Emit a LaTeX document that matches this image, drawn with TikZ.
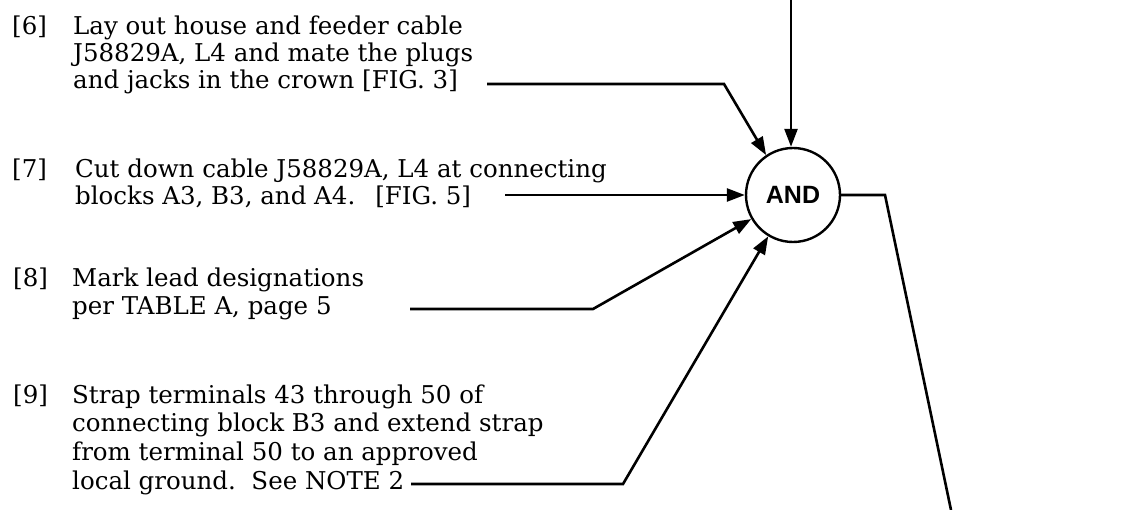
\documentclass[tikz,border=0pt]{standalone}
\usepackage{fontspec}
\setmainfont{DejaVu Serif}
\newfontfamily\andfont{Liberation Sans}
\usetikzlibrary{arrows.meta}
\begin{document}
\begin{tikzpicture}[x=1pt,y=-1pt,
  txt/.style={anchor=base west, inner sep=0pt, font=\fontsize{24.5}{27.5}\selectfont},
  wire/.style={line width=2.6pt, line join=miter},
  conn/.style={wire, -{Triangle[length=18pt,width=13pt]}},
  gate/.style={circle, draw, line width=2.4pt, minimum size=94pt, inner sep=0pt,
    font=\andfont\bfseries\fontsize{25}{28}\selectfont},
]
\useasboundingbox (0,0) rectangle (1147,510);

% gate
\node[gate] (and) at (793,195) {AND};

% step 6
\node[txt] (n6)  at (12,35) {[6]};
\node[txt] (t6a) at (73,35) {Lay out house and feeder cable};
\node[txt] (t6b) at (73,62) {J58829A, L4 and mate the plugs};
\node[txt] (t6c) at (73,89) {and jacks in the crown [FIG. 3]};

% step 7
\node[txt] (n7)  at (12,178) {[7]};
\node[txt] (t7a) at (75,178) {Cut down cable J58829A, L4 at connecting};
\node[txt] (t7b) at (75,205) {blocks A3, B3, and A4.\hspace{20pt}[FIG. 5]};

% step 8
\node[txt] (n8)  at (13,287) {[8]};
\node[txt] (t8a) at (72,287) {Mark lead designations};
\node[txt] (t8b) at (72,314) {per TABLE A, page 5};

% step 9
\node[txt] (n9)  at (13,403) {[9]};
\node[txt] (t9a) at (72,403) {Strap terminals 43 through 50 of};
\node[txt] (t9b) at (72,431.5) {connecting block B3 and extend strap};
\node[txt] (t9c) at (72,460) {from terminal 50 to an approved};
\node[txt] (t9d) at (72,489) {local ground.\ \ See NOTE 2};

% connector points
\coordinate (top) at (791,0);
\coordinate (s6) at (487,84);
\coordinate (b6) at (724,84);
\coordinate (s7) at (505,195);
\coordinate (s8) at (410,309);
\coordinate (b8) at (593,309);
\coordinate (s9) at (411,484);
\coordinate (b9) at (623,484);
\coordinate (ob) at (885,195);
\coordinate (oe) at (951,510);

% connectors
\draw[conn] (top) -- (top |- and.north);
\draw[conn] (s6) -- (b6) -- (and.124);
\draw[conn] (s7) -- (and.west);
\draw[conn] (s8) -- (b8) -- (and.210);
\draw[conn] (s9) -- (b9) -- (and.239);
\draw[wire] (and.east) -- (ob) -- (oe);
\end{tikzpicture}
\end{document}
